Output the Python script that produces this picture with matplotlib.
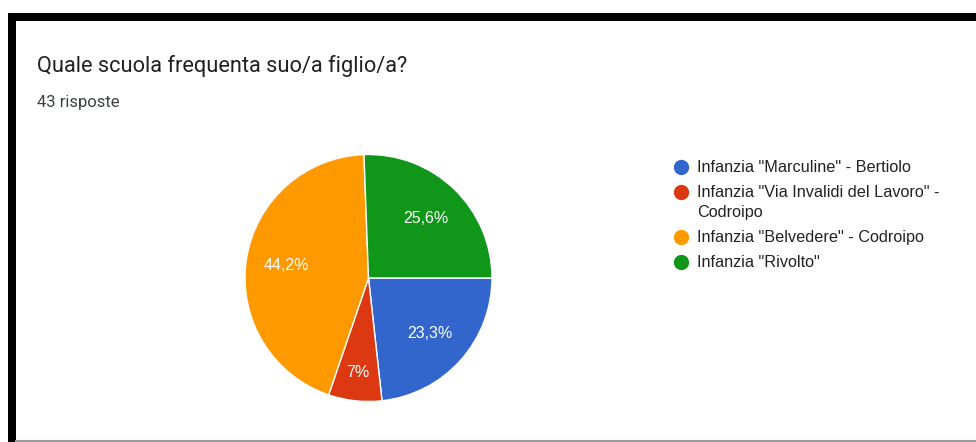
import numpy as np
import matplotlib
matplotlib.use('Agg')
import matplotlib.pyplot as plt
from matplotlib.lines import Line2D
from matplotlib.patches import Rectangle

# data (43 responses)
schools = ['Infanzia "Marculine" - Bertiolo',
           'Infanzia "Via Invalidi del Lavoro" -\nCodroipo',
           'Infanzia "Belvedere" - Codroipo',
           'Infanzia "Rivolto"']
counts = [10, 3, 19, 11]
colors = ['#3366cc', '#dc3912', '#ff9900', '#109618']

title = 'Quale scuola frequenta suo/a figlio/a?'
subtitle = '43 risposte'

W, H = 976, 442


def fx(x):
    return x / W


def fy(y):
    return 1 - y / H


def pct_label(p):
    s = f'{p:.1f}'
    if s.endswith('.0'):
        s = s[:-2]
    return s.replace('.', ',') + '%'


fig = plt.figure(figsize=(W / 100, H / 100), dpi=100)
fig.patch.set_facecolor('white')

# screenshot frame
fig.add_artist(Rectangle((fx(8), fy(21)), 1, fy(13) - fy(21), transform=fig.transFigure,
                         facecolor='black', edgecolor='none'))
fig.add_artist(Rectangle((fx(8), 0), fx(8), fy(13), transform=fig.transFigure,
                         facecolor='black', edgecolor='none'))
fig.add_artist(Line2D([fx(16), 1], [fy(440.5), fy(440.5)], transform=fig.transFigure,
                      color='#9a9a9a', lw=1.5))

fig.text(fx(37), fy(66), title, fontsize=15.7, family='Roboto', color='#202124', va='center')
fig.text(fx(37), fy(102), subtitle, fontsize=12, family='Roboto', color='#3c4043', va='center')

# pie
cx, cy, r = 368.5, 278, 123.5
ax = fig.add_axes([fx(cx - r), fy(cy + r), (2 * r) / W, (2 * r) / H])
wedges, _ = ax.pie(counts, colors=colors, startangle=0, counterclock=False, radius=1,
                   wedgeprops=dict(edgecolor='white', linewidth=1))
ax.set_xlim(-1, 1)
ax.set_ylim(-1, 1)
ax.set_aspect('equal')
ax.axis('off')

total = sum(counts)
for w, c in zip(wedges, counts):
    frac = c / total
    mid = np.deg2rad((w.theta1 + w.theta2) / 2)
    dist = 0.67 if frac > 0.1 else 0.77
    ax.text(dist * np.cos(mid), dist * np.sin(mid), pct_label(100 * frac),
            ha='center', va='center', color='white', fontsize=11.5, family='Liberation Sans')

# legend
rows = [167, 192, 237, 262]
for lab, col, y in zip(schools, colors, rows):
    fig.add_artist(Line2D([fx(681)], [fy(y)], transform=fig.transFigure, marker='o',
                          markersize=10, color=col, linestyle='none'))
    fig.text(fx(697), fy(y - 7), lab, fontsize=11.7, family='Liberation Sans', color='#222222',
             va='top', linespacing=1.45)

fig.savefig('out.png', dpi=100)
